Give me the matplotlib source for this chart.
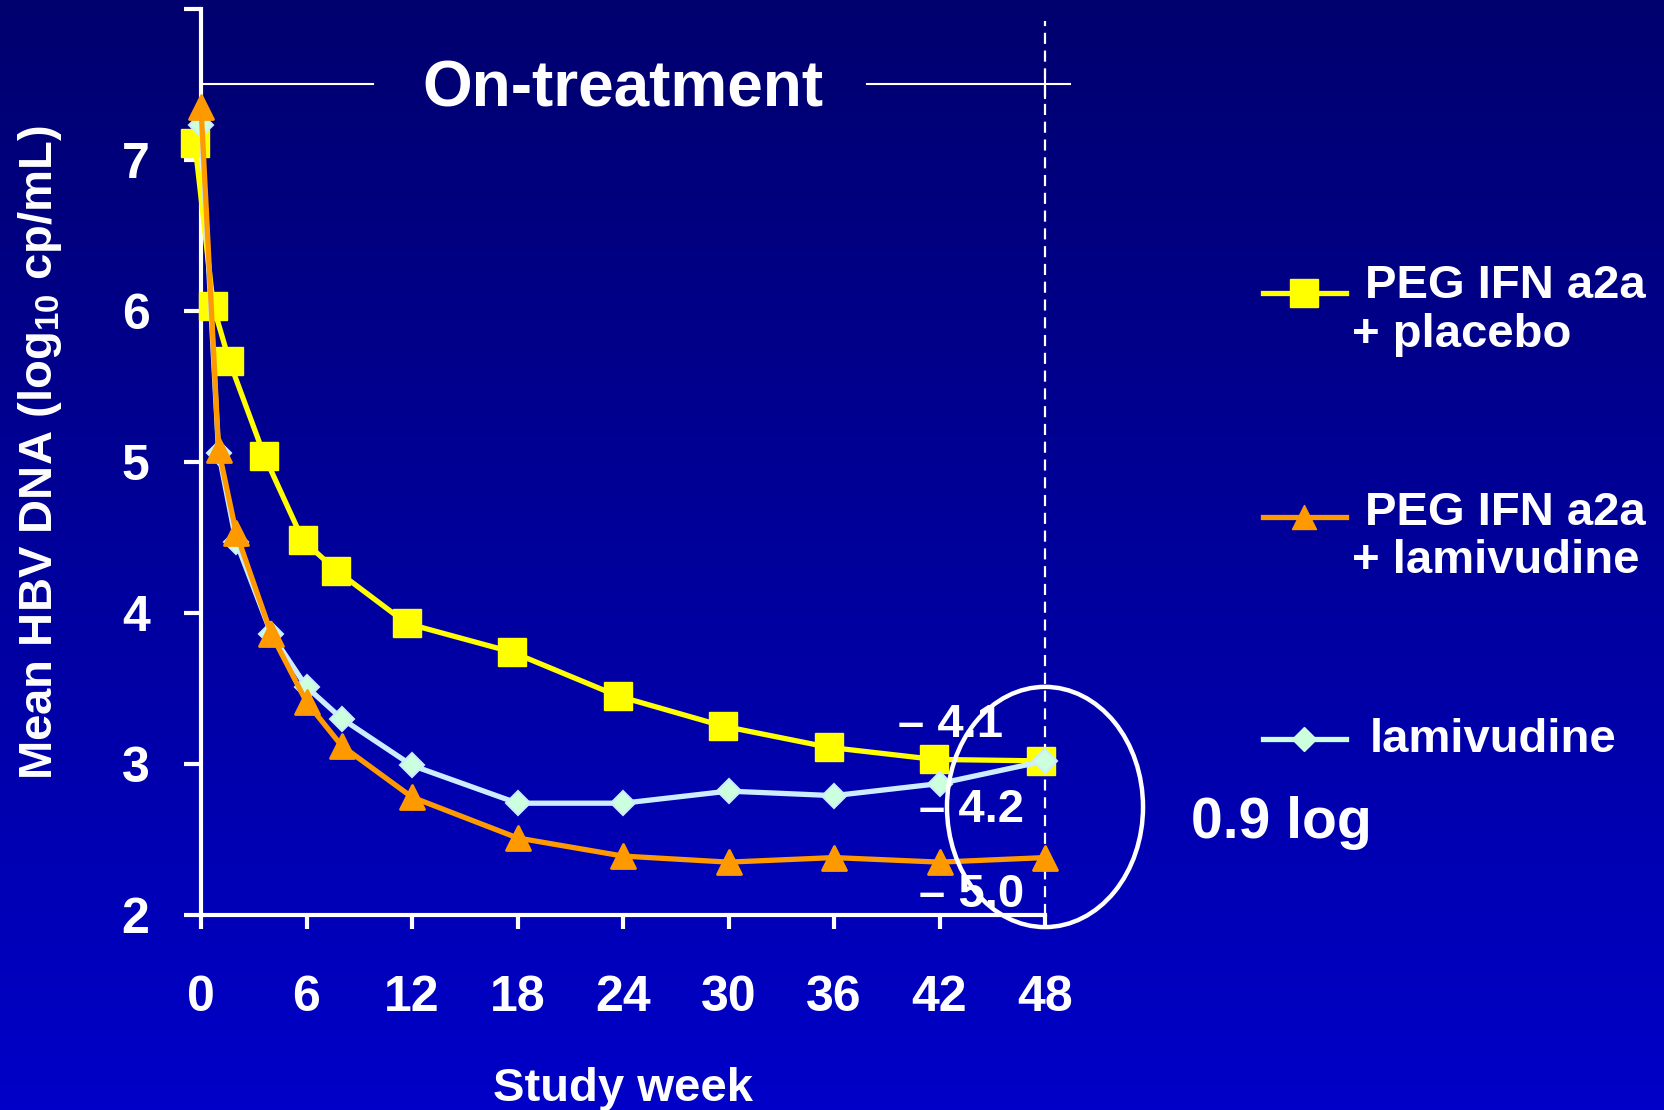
import numpy as np
import matplotlib
matplotlib.use("Agg")
import matplotlib.pyplot as plt
from matplotlib.colors import LinearSegmentedColormap
from matplotlib.patches import Ellipse
from matplotlib.lines import Line2D
from matplotlib.markers import MarkerStyle

plt.rcParams['font.family'] = ['Liberation Sans', 'DejaVu Sans']
plt.rcParams['font.weight'] = 'bold'
plt.rcParams['axes.labelweight'] = 'bold'
plt.rcParams['mathtext.fontset'] = 'custom'
plt.rcParams['mathtext.rm'] = 'Liberation Sans:bold'
plt.rcParams['mathtext.default'] = 'rm'

# data (log10 copies/mL)
weeks = [0, 1, 2, 4, 6, 8, 12, 18, 24, 30, 36, 42, 48]
weeks_pbo = [-0.35, 0.7, 1.6, 3.6, 5.8, 7.7, 11.7, 17.7, 23.7, 29.7, 35.7, 41.7, 47.8]
peg_placebo = [7.11, 6.03, 5.67, 5.04, 4.48, 4.28, 3.93, 3.74, 3.45, 3.25, 3.11, 3.03, 3.02]
peg_lam = [7.35, 5.08, 4.53, 3.86, 3.41, 3.12, 2.78, 2.51, 2.39, 2.35, 2.38, 2.35, 2.38]
lamivudine = [7.23, 5.06, 4.47, 3.86, 3.51, 3.30, 2.99, 2.74, 2.74, 2.82, 2.79, 2.87, 3.02]

xticks = [0, 6, 12, 18, 24, 30, 36, 42, 48]
yticks = [2, 3, 4, 5, 6, 7, 8]
ytick_labels = ['2', '3', '4', '5', '6', '7', '']

W, H = 1664, 1110
fig = plt.figure(figsize=(W / 100, H / 100), dpi=100)

# blue gradient background
bg = fig.add_axes([0, 0, 1, 1], zorder=-10)
cmap = LinearSegmentedColormap.from_list('bg', ['#00006E', '#0000C8'])
bg.imshow(np.linspace(0, 1, 256).reshape(-1, 1), aspect='auto', cmap=cmap,
          extent=[0, 1, 0, 1], origin='upper')
bg.axis('off')

ax = fig.add_axes([201 / W, 1 - 915 / H, 844 / W, 906.5 / H])
ax.patch.set_alpha(0)
ax.set_xlim(0, 48)
ax.set_ylim(2, 8)
for s in ['top', 'right']:
    ax.spines[s].set_visible(False)
for s in ['left', 'bottom']:
    ax.spines[s].set_color('white')
    ax.spines[s].set_linewidth(3)

ax.set_xticks(xticks)
ax.set_yticks(yticks)
ax.set_yticklabels(ytick_labels)
ax.tick_params(colors='white', labelcolor='white', width=3, labelsize=36)
ax.tick_params(axis='y', length=12, pad=25)
ax.tick_params(axis='x', length=10, pad=33)

lw = 3.8
ax.plot(weeks_pbo, peg_placebo, color='#FFFF00', lw=lw, marker='s', ms=20,
        mfc='#FFFF00', mec='#FFFF00', clip_on=False, zorder=3)
ax.plot(weeks, lamivudine, color='#CCECFF', lw=lw, marker='D', ms=12,
        mfc='#CCFFDD', mec='#CCECFF', mew=1.5, clip_on=False, zorder=4)
tri = MarkerStyle('^', joinstyle='round')
ax.plot(weeks, peg_lam, color='#FF9900', lw=lw, marker=tri, ms=17,
        mfc='#FF9900', mec='#FF9900', mew=2, clip_on=False, zorder=5)

# end-of-treatment marker and "On-treatment" bracket
ax.plot([48, 48], [2, 7.92], color='white', lw=1.6, ls=(0, (5, 3)), clip_on=False, zorder=2)
ax.plot([0, 9.8], [7.5, 7.5], color='white', lw=1.5, clip_on=False)
ax.plot([37.9, 49.4], [7.5, 7.5], color='white', lw=1.5, clip_on=False)
ax.plot([48, 48], [7.41, 7.59], color='white', lw=1.5, clip_on=False)
ax.text(24, 7.354, 'On-treatment', fontsize=46, ha='center', va='baseline', color='white')

# reductions at week 48
ax.text(45.62, 3.178, '– 4.1', ha='right', va='baseline', fontsize=34, color='white', zorder=5)
ax.text(46.82, 2.615, '– 4.2', ha='right', va='baseline', fontsize=34, color='white', zorder=5)
ax.text(46.82, 2.053, '– 5.0', ha='right', va='baseline', fontsize=34, color='white', zorder=5)
ax.add_patch(Ellipse((48, 2.715), 11.15, 1.59, fill=False, ec='white', lw=3.2,
                     clip_on=False, zorder=6))
fig.text(1281 / W, 1 - 838 / H, '0.9 log', ha='center', va='baseline', fontsize=41, color='white')

ax.set_ylabel('Mean HBV DNA (log$_{10}$ cp/mL)', fontsize=34, color='white',
              fontweight='bold', va='center')
ax.yaxis.set_label_coords((40 - 201) / 844, 0.51)
ax.set_xlabel('Study week', fontsize=34, color='white', fontweight='bold', va='baseline')
ax.xaxis.set_label_coords(0.5, -(1101 - 915) / 906.5)

# legend drawn by hand
legend_rows = [
    (293, '#FFFF00', 's', '#FFFF00', '#FFFF00', 20),
    (517, '#FF9900', tri, '#FF9900', '#FF9900', 17),
    (739, '#CCFFDD', 'D', '#CCFFDD', '#CCFFDD', 12),
]
for y, c, m, fc, ec, ms in legend_rows:
    yy = 1 - y / H
    fig.add_artist(Line2D([1263 / W, 1304 / W, 1346 / W], [yy, yy, yy],
                          transform=fig.transFigure, color=c, lw=lw, marker=m,
                          markevery=[1], ms=ms, mfc=fc, mec=ec))

leg_text = [
    (1365, 298, 'PEG IFN a2a'),
    (1352, 347, '+ placebo'),
    (1365, 525, 'PEG IFN a2a'),
    (1352, 573, '+ lamivudine'),
    (1370, 752, 'lamivudine'),
]
for x, y, t in leg_text:
    fig.text(x / W, 1 - y / H, t, va='baseline', fontsize=34, color='white')

fig.savefig('out.png', dpi=100)
